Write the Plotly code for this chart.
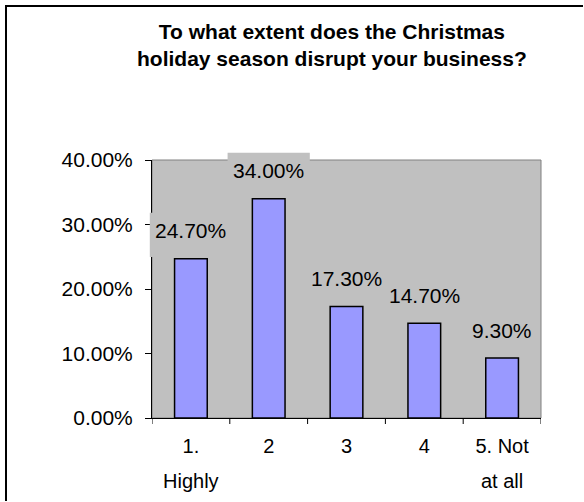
import plotly.graph_objects as go

# Survey results
categories = ["1. Highly", "2", "3", "4", "5. Not at all"]
tick_line1 = ["1.", "2", "3", "4", "5. Not"]
tick_line2 = ["Highly", "", "", "", "at all"]
shares = [24.7, 34.0, 17.3, 14.7, 9.3]
y_ticks = [0, 10, 20, 30, 40]

title_text = "To what extent does the Christmas<br>holiday season disrupt your business?"

W, H = 584, 502
L, R, T, B = 152, 541, 160, 418  # plot area in pixels
Y_MAX = 40
FONT = "Liberation Sans, Arial, sans-serif"
PLOT_GRAY = "#C0C0C0"
NUM_SIZE = 21
CAT_SIZE = 20

N = len(categories)


def px_x(px):
    return (px - L) / (R - L)


def px_y(py):
    return (B - py) / (B - T)


def label_width(s, size):
    # rough Arial advance widths, enough to size the label boxes
    em = sum(0.556 if c.isdigit() else 0.278 if c == "." else 0.889 for c in s)
    return em * size


idx = list(range(N))

fig = go.Figure(
    go.Bar(
        x=idx,
        y=shares,
        width=0.42,
        marker=dict(color="#9999FF", line=dict(color="black", width=1.5)),
        hoverinfo="skip",
    )
)

# value labels: plot-coloured box above each bar (paper coords so it may
# spill past the plot area), text on top of it
for i, v in zip(idx, shares):
    txt = f"{v:.2f}%"
    cx = (i + 0.5) / N
    half = (label_width(txt, NUM_SIZE) + 11) / 2 / (R - L)
    base = v / Y_MAX
    fig.add_shape(
        type="rect", xref="paper", yref="paper", layer="above",
        x0=cx - half, x1=cx + half,
        y0=base + 1.7 / (B - T), y1=base + 46 / (B - T),
        fillcolor=PLOT_GRAY, line=dict(width=0),
    )
    fig.add_annotation(
        x=i, y=v, xref="x", yref="y",
        text=txt, showarrow=False,
        xanchor="center", yanchor="middle", yshift=28,
        font=dict(family=FONT, size=NUM_SIZE, color="black"),
    )

# second line of the category labels
for i, t in zip(idx, tick_line2):
    if t:
        fig.add_annotation(
            x=i, y=px_y(481), xref="x", yref="paper",
            text=t, showarrow=False, xanchor="center", yanchor="middle",
            font=dict(family=FONT, size=CAT_SIZE, color="black"),
        )

# title
fig.add_annotation(
    x=270 / W, y=px_y(44.5), xref="paper", yref="paper",
    text=title_text, showarrow=False, xanchor="center", yanchor="middle",
    font=dict(family=FONT, size=21, color="black", weight="bold"),
)

# plot area border
fig.add_shape(type="rect", xref="paper", yref="paper", x0=0, x1=1, y0=0, y1=1,
              line=dict(color="#808080", width=1), layer="below")

# chart frame: left and top edges as one open path
frame_path = (
    f"M {px_x(6):.5f},{px_y(H - 1):.5f} "
    f"L {px_x(6):.5f},{px_y(6):.5f} "
    f"L {px_x(W - 1):.5f},{px_y(6):.5f}"
)
fig.add_shape(type="path", xref="paper", yref="paper", path=frame_path,
              line=dict(color="black", width=2))

fig.update_layout(
    width=W, height=H,
    margin=dict(l=L, r=W - R, t=T, b=H - B, pad=0),
    paper_bgcolor="white", plot_bgcolor=PLOT_GRAY,
    showlegend=False,
    font=dict(family=FONT, size=NUM_SIZE, color="black"),
)
fig.update_xaxes(
    range=[-0.5, N - 0.5],
    tickmode="array", tickvals=idx, ticktext=tick_line1,
    ticks="", showline=True, linecolor="black", linewidth=1,
    showgrid=False, zeroline=False,
    ticklabelstandoff=10,
    tickfont=dict(family=FONT, size=CAT_SIZE, color="black"),
)
# category boundary ticks below the axis
for b in [i - 0.5 for i in idx] + [idx[-1] + 0.5]:
    fig.add_shape(type="line", xref="x", yref="paper", x0=b, x1=b,
                  y0=0, y1=px_y(B + 6), line=dict(color="black", width=1))

fig.update_yaxes(
    range=[0, Y_MAX], tickvals=y_ticks, ticktext=[f"{v:.2f}%" for v in y_ticks],
    tickmode="array", ticks="outside", ticklen=6, tickcolor="black",
    showline=True, linecolor="black", linewidth=1, showgrid=False, zeroline=False,
    ticklabelstandoff=8,
    tickfont=dict(family=FONT, size=NUM_SIZE, color="black"),
)

fig.write_html("out.html")
